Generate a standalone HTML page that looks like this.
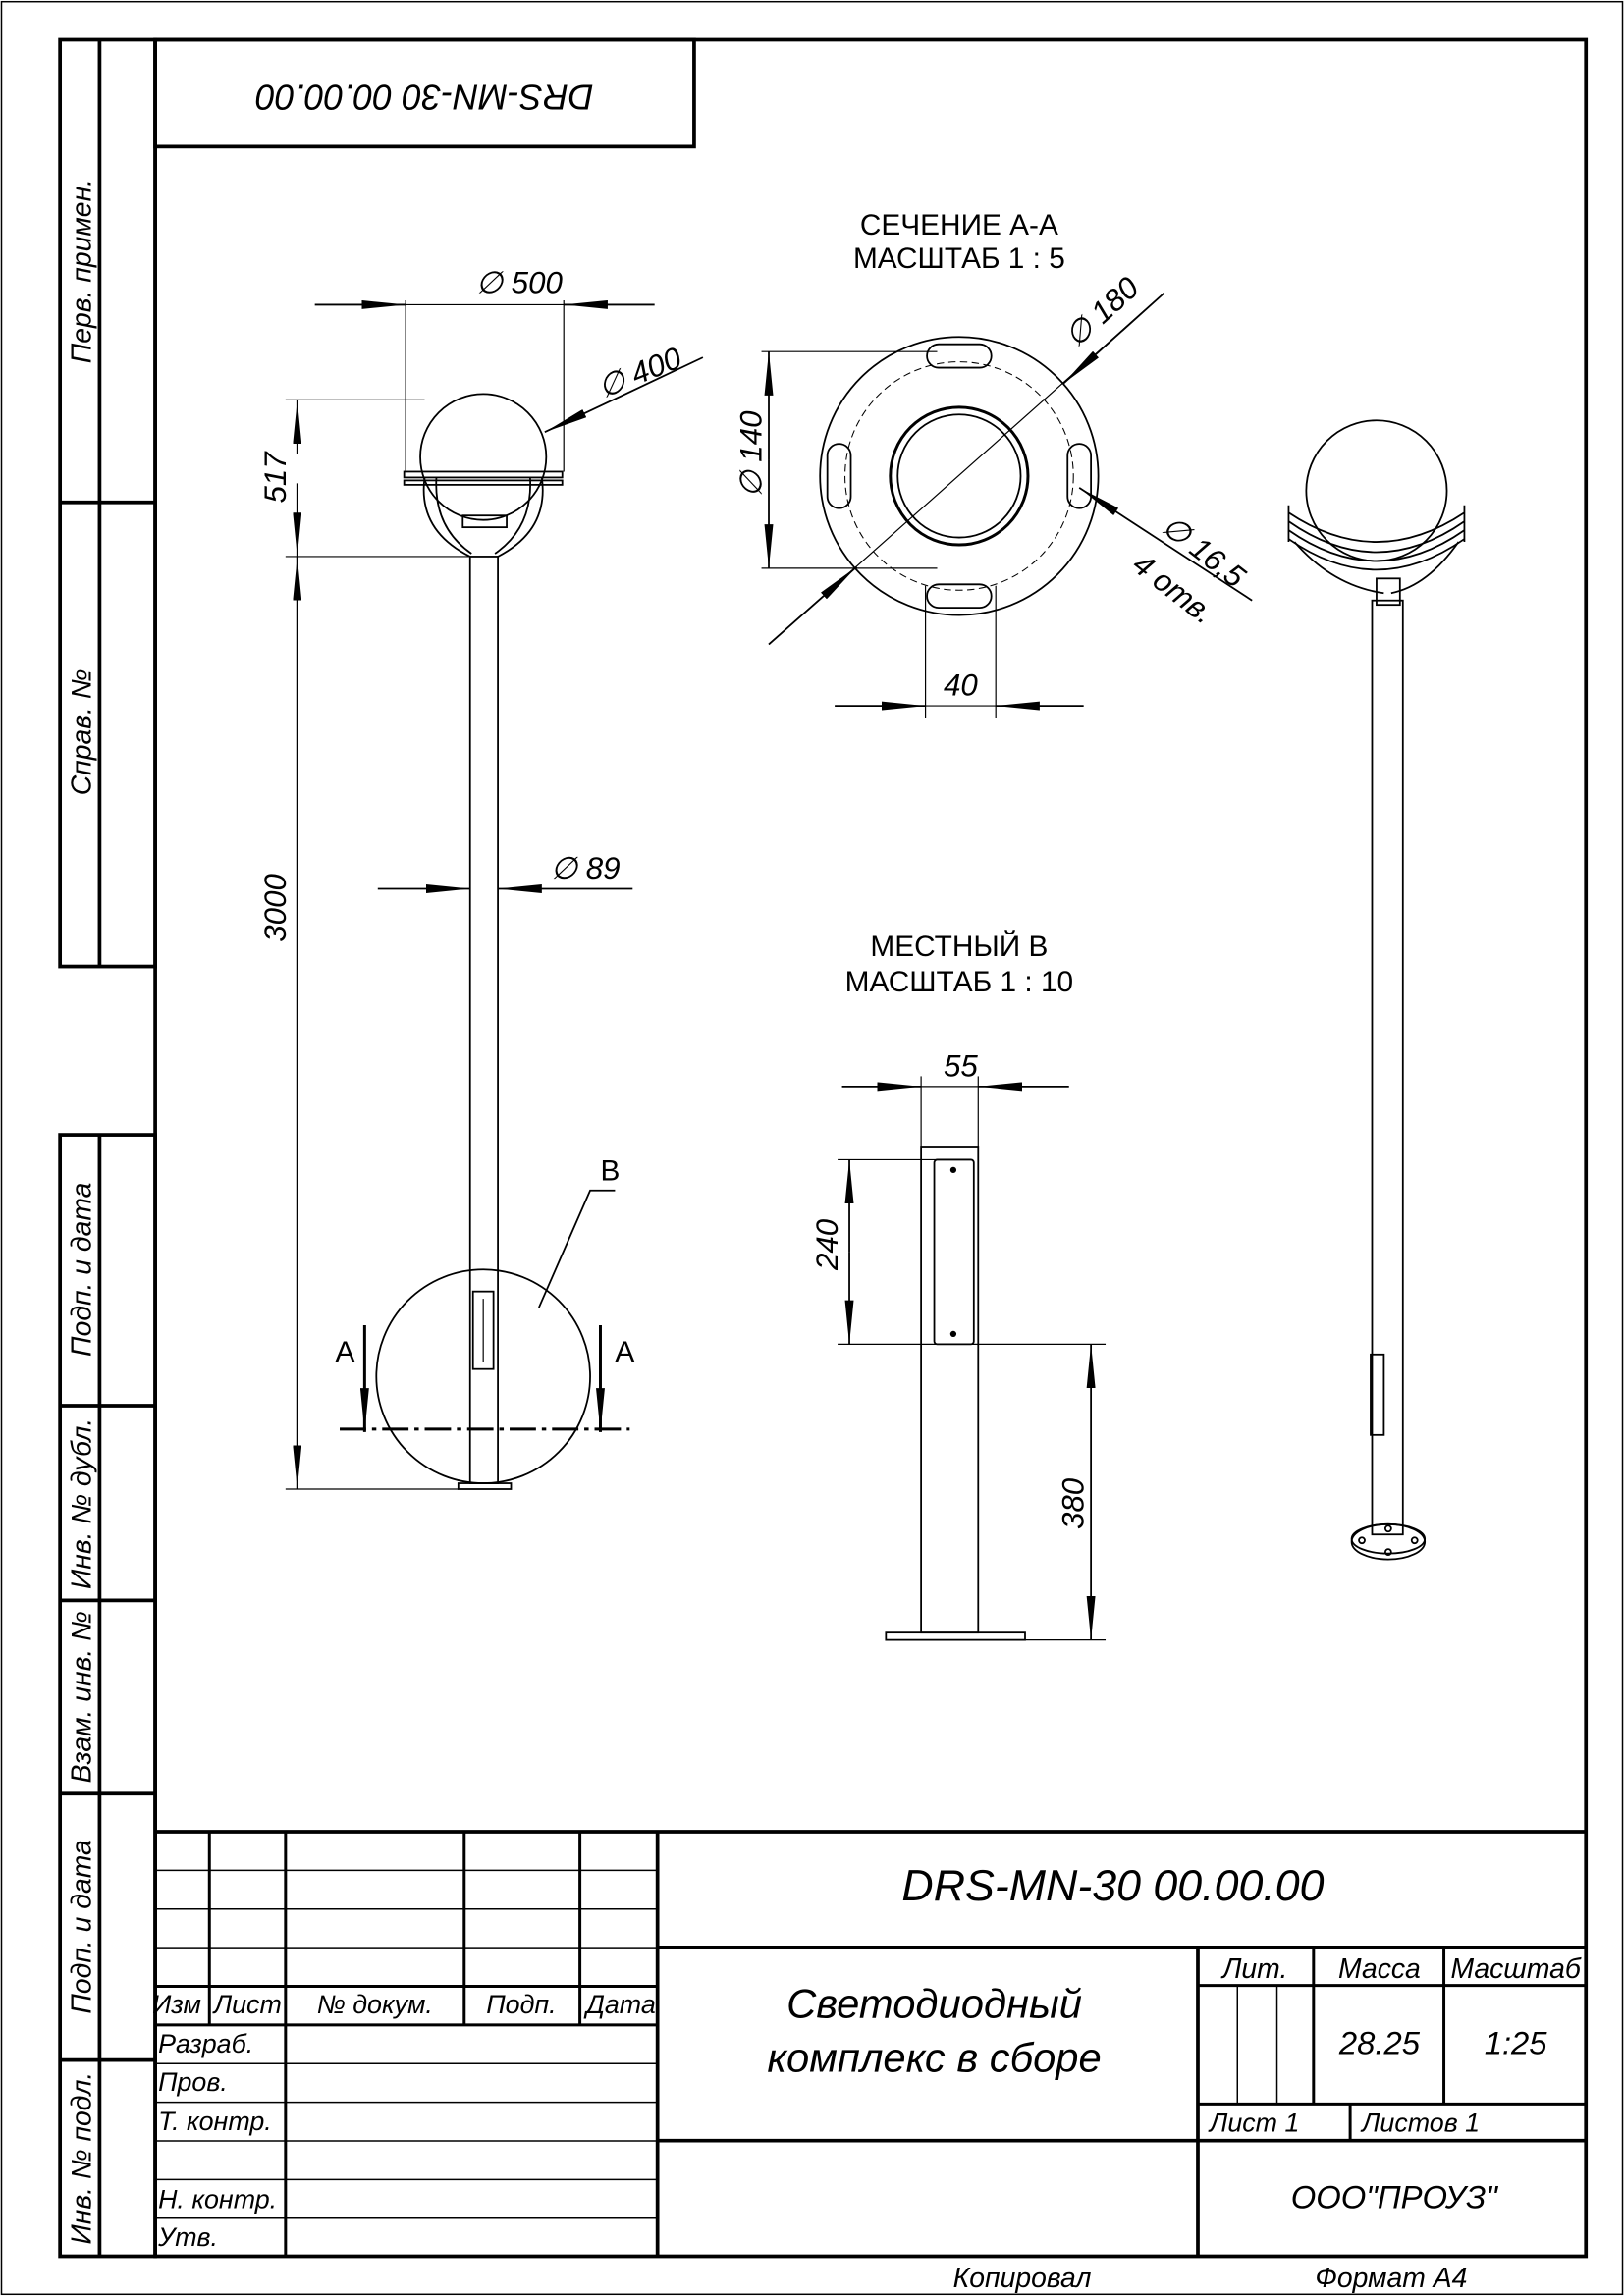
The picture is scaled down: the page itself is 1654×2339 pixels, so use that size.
<!DOCTYPE html>
<html><head><meta charset="utf-8"><style>
html,body{margin:0;padding:0;background:#fff}
svg{display:block}
text{font-family:"Liberation Sans Narrow","Liberation Sans",sans-serif;fill:#000}
.i{font-style:italic}
</style></head><body>
<svg width="1654" height="2339" viewBox="0 0 1109 1568" xmlns="http://www.w3.org/2000/svg">
<defs>
<marker id="a" viewBox="0 0 30 6" refX="30" refY="3" markerWidth="30" markerHeight="6" markerUnits="userSpaceOnUse" orient="auto"><path d="M0,0 L30,3 L0,6 Z" fill="#000"/></marker>
</defs>
<g fill="none" stroke="#000">
<rect x="1" y="1" width="1107" height="1566" stroke-width="1"/>
<rect x="106" y="27" width="977" height="1514" stroke-width="2.5"/>
<rect x="41" y="27" width="65" height="633" stroke-width="2.5"/>
<line x1="68" y1="27" x2="68" y2="660" stroke-width="2.5"/>
<line x1="41" y1="343" x2="106" y2="343" stroke-width="2.5"/>
<rect x="41" y="775" width="65" height="766" stroke-width="2.5"/>
<line x1="68" y1="775" x2="68" y2="1541" stroke-width="2.5"/>
<line x1="41" y1="960" x2="106" y2="960" stroke-width="2.5"/>
<line x1="41" y1="1093" x2="106" y2="1093" stroke-width="2.5"/>
<line x1="41" y1="1225" x2="106" y2="1225" stroke-width="2.5"/>
<line x1="41" y1="1407" x2="106" y2="1407" stroke-width="2.5"/>
<rect x="106" y="27" width="368" height="73" stroke-width="2.5"/>
<line x1="106" y1="1251" x2="1083" y2="1251" stroke-width="2.5"/>
<line x1="449" y1="1251" x2="449" y2="1541" stroke-width="2.5"/>
<line x1="143" y1="1251" x2="143" y2="1383" stroke-width="2"/>
<line x1="195" y1="1251" x2="195" y2="1541" stroke-width="2"/>
<line x1="317" y1="1251" x2="317" y2="1383" stroke-width="2"/>
<line x1="396" y1="1251" x2="396" y2="1383" stroke-width="2"/>
<g stroke-width="1">
<line x1="106" y1="1277.4" x2="449" y2="1277.4"/><line x1="106" y1="1303.8" x2="449" y2="1303.8"/>
<line x1="106" y1="1330.2" x2="449" y2="1330.2"/>
<line x1="106" y1="1409.4" x2="449" y2="1409.4"/><line x1="106" y1="1435.8" x2="449" y2="1435.8"/>
<line x1="106" y1="1462.2" x2="449" y2="1462.2"/><line x1="106" y1="1488.6" x2="449" y2="1488.6"/>
<line x1="106" y1="1515" x2="449" y2="1515"/>
</g>
<line x1="106" y1="1356.6" x2="449" y2="1356.6" stroke-width="2"/>
<line x1="106" y1="1383" x2="449" y2="1383" stroke-width="2"/>
<line x1="449" y1="1330" x2="1083" y2="1330" stroke-width="2.5"/>
<line x1="449" y1="1462" x2="1083" y2="1462" stroke-width="2.5"/>
<line x1="818" y1="1330" x2="818" y2="1541" stroke-width="2.5"/>
<line x1="897" y1="1330" x2="897" y2="1437" stroke-width="2"/>
<line x1="986" y1="1330" x2="986" y2="1437" stroke-width="2"/>
<line x1="818" y1="1356" x2="1083" y2="1356" stroke-width="2"/>
<line x1="818" y1="1437" x2="1083" y2="1437" stroke-width="2"/>
<line x1="922" y1="1437" x2="922" y2="1462" stroke-width="2"/>
<line x1="845" y1="1356" x2="845" y2="1437" stroke-width="1"/>
<line x1="872" y1="1356" x2="872" y2="1437" stroke-width="1"/>

<g stroke-width="1.2">
<rect x="321" y="380" width="19" height="633"/>
<rect x="313" y="1013" width="36" height="4"/>
<circle cx="330" cy="312" r="43"/>
<rect x="276" y="322" width="108" height="4"/>
<rect x="276" y="328" width="108" height="3"/>
<path d="M290,326 Q285,362 321,380 M370,326 Q375,362 340,380 M298,326 Q296,360 322,378 M362,326 Q364,360 338,378"/>
<rect x="316" y="352" width="30" height="8"/>
<rect x="323" y="882" width="14" height="53"/>
<line x1="330" y1="887" x2="330" y2="930" stroke-width="0.8"/>
<line x1="277" y1="205" x2="277" y2="322" stroke-width="0.8"/>
<line x1="385" y1="205" x2="385" y2="322" stroke-width="0.8"/>
<line x1="215" y1="208" x2="277" y2="208" marker-end="url(#a)"/>
<line x1="447" y1="208" x2="385" y2="208" marker-end="url(#a)"/>
<line x1="277" y1="208" x2="385" y2="208" stroke-width="0.8"/>
<line x1="480" y1="244" x2="372" y2="295" marker-end="url(#a)"/>
<line x1="195" y1="273" x2="290" y2="273" stroke-width="0.8"/>
<line x1="195" y1="380" x2="321" y2="380" stroke-width="0.8"/>
<line x1="195" y1="1017" x2="313" y2="1017" stroke-width="0.8"/>
<line x1="203" y1="310" x2="203" y2="273" marker-end="url(#a)"/>
<line x1="203" y1="330" x2="203" y2="380" marker-end="url(#a)"/>
<line x1="203" y1="380" x2="203" y2="1017" marker-end="url(#a)"/>
<line x1="203" y1="1017" x2="203" y2="380" marker-end="url(#a)"/>
<line x1="258" y1="607" x2="321" y2="607" marker-end="url(#a)"/>
<line x1="432" y1="607" x2="340" y2="607" marker-end="url(#a)"/>
<circle cx="330" cy="940" r="73"/>
<polyline points="368,893 403,813 420,813"/>
<line x1="232" y1="976" x2="430" y2="976" stroke-width="2" stroke-dasharray="18,4,3,4"/>
<line x1="249" y1="905" x2="249" y2="978" stroke-width="2" marker-end="url(#a)"/>
<line x1="410" y1="905" x2="410" y2="978" stroke-width="2" marker-end="url(#a)"/>
</g>

<g stroke-width="1.2">
<circle cx="655" cy="325" r="95"/>
<circle cx="655" cy="325" r="78" stroke-dasharray="5,3" stroke-width="0.7"/>
<circle cx="655" cy="325" r="47" stroke-width="2"/>
<circle cx="655" cy="325" r="42"/>
<rect x="633" y="235" width="44" height="16" rx="8"/>
<rect x="633" y="399" width="44" height="16" rx="8"/>
<rect x="565" y="303" width="16" height="44" rx="8"/>
<rect x="729" y="303" width="16" height="44" rx="8"/>
<line x1="520" y1="240" x2="640" y2="240" stroke-width="0.8"/>
<line x1="520" y1="388" x2="640" y2="388" stroke-width="0.8"/>
<line x1="525" y1="314" x2="525" y2="240" marker-end="url(#a)"/>
<line x1="525" y1="314" x2="525" y2="388" marker-end="url(#a)"/>
<line x1="525" y1="440" x2="795" y2="200" stroke-width="0.8"/>
<line x1="525" y1="440" x2="585" y2="387" marker-end="url(#a)"/>
<line x1="795" y1="200" x2="726" y2="262" marker-end="url(#a)"/>
<line x1="855" y1="410" x2="737" y2="333" marker-end="url(#a)"/>
<line x1="632" y1="400" x2="632" y2="490" stroke-width="0.8"/>
<line x1="680" y1="400" x2="680" y2="490" stroke-width="0.8"/>
<line x1="570" y1="482" x2="632" y2="482" marker-end="url(#a)"/>
<line x1="740" y1="482" x2="680" y2="482" marker-end="url(#a)"/>
<line x1="632" y1="482" x2="680" y2="482" stroke-width="0.8"/>
</g>

<g stroke-width="1.2">
<rect x="629" y="783" width="39" height="332"/>
<rect x="605" y="1115" width="95" height="5"/>
<rect x="638" y="792" width="27" height="126" rx="2"/>
<circle cx="651" cy="799" r="1.5" fill="#000"/><circle cx="651" cy="911" r="1.5" fill="#000"/>
<line x1="629" y1="735" x2="629" y2="783" stroke-width="0.8"/>
<line x1="668" y1="735" x2="668" y2="783" stroke-width="0.8"/>
<line x1="575" y1="742" x2="629" y2="742" marker-end="url(#a)"/>
<line x1="730" y1="742" x2="668" y2="742" marker-end="url(#a)"/>
<line x1="629" y1="742" x2="668" y2="742" stroke-width="0.8"/>
<line x1="572" y1="792" x2="640" y2="792" stroke-width="0.8"/>
<line x1="572" y1="918" x2="755" y2="918" stroke-width="0.8"/>
<line x1="700" y1="1120" x2="755" y2="1120" stroke-width="0.8"/>
<line x1="580" y1="855" x2="580" y2="792" marker-end="url(#a)"/>
<line x1="580" y1="855" x2="580" y2="918" marker-end="url(#a)"/>
<line x1="745" y1="1019" x2="745" y2="918" marker-end="url(#a)"/>
<line x1="745" y1="1019" x2="745" y2="1120" marker-end="url(#a)"/>
</g>

<g stroke-width="1.2">
<rect x="937" y="410" width="21" height="638"/>
<ellipse cx="948" cy="1053" rx="25" ry="12"/>
<ellipse cx="948" cy="1051" rx="25" ry="10"/>
<circle cx="930" cy="1052" r="2"/><circle cx="966" cy="1052" r="2"/><circle cx="948" cy="1060" r="2"/><circle cx="948" cy="1044" r="2"/>
<rect x="936" y="925" width="9" height="55"/>
<circle cx="940" cy="335" r="48"/>
<path d="M880,350 Q940,390 1000,350 M880,356 Q940,398 1000,356 M880,362 Q940,404 1000,362 M880,368 Q940,410 1000,368"/>
<path d="M880,345 L880,370 M1000,345 L1000,370"/>
<path d="M884,370 Q910,400 945,405 M996,370 Q975,400 950,405"/>
<rect x="940" y="395" width="16" height="18"/>
</g>
</g>

<g class="i">
<text x="290" y="76" font-size="24" text-anchor="middle" transform="rotate(180 290 67)">DRS-MN-30 00.00.00</text>
<text transform="translate(62,185) rotate(-90)" font-size="19" text-anchor="middle">Перв. примен.</text>
<text transform="translate(62,500) rotate(-90)" font-size="19" text-anchor="middle">Справ. №</text>
<text transform="translate(62,867) rotate(-90)" font-size="19" text-anchor="middle">Подп. и дата</text>
<text transform="translate(62,1027) rotate(-90)" font-size="19" text-anchor="middle">Инв. № дубл.</text>
<text transform="translate(62,1159) rotate(-90)" font-size="19" text-anchor="middle">Взам. инв. №</text>
<text transform="translate(62,1316) rotate(-90)" font-size="19" text-anchor="middle">Подп. и дата</text>
<text transform="translate(62,1474) rotate(-90)" font-size="19" text-anchor="middle">Инв. № подл.</text>

<text x="325" y="200" font-size="21">∅ 500</text>
<text transform="translate(412,272) rotate(-22)" font-size="21">∅ 400</text>
<text transform="translate(195,326) rotate(-90)" font-size="21" text-anchor="middle">517</text>
<text transform="translate(195,620) rotate(-90)" font-size="21" text-anchor="middle">3000</text>
<text x="376" y="600" font-size="21">∅ 89</text>
<text x="410" y="806" font-size="20" font-style="normal">B</text>
<text x="229" y="930" font-size="20" font-style="normal">A</text>
<text x="420" y="930" font-size="20" font-style="normal">A</text>

<text transform="translate(520,310) rotate(-90)" font-size="21" text-anchor="middle">∅ 140</text>
<text transform="translate(735,238) rotate(-42)" font-size="21">∅ 180</text>
<text transform="translate(792,362) rotate(38)" font-size="21">∅ 16,5</text>
<text transform="translate(772,388) rotate(38)" font-size="21">4 отв.</text>
<text x="656" y="475" font-size="21" text-anchor="middle">40</text>
<text x="656" y="735" font-size="21" text-anchor="middle">55</text>
<text transform="translate(572,850) rotate(-90)" font-size="21" text-anchor="middle">240</text>
<text transform="translate(740,1027) rotate(-90)" font-size="21" text-anchor="middle">380</text>

<text x="104" y="1375" font-size="18">Изм</text>
<text x="146" y="1375" font-size="18">Лист</text>
<text x="256" y="1375" font-size="18" text-anchor="middle">№ докум.</text>
<text x="356" y="1375" font-size="18" text-anchor="middle">Подп.</text>
<text x="424" y="1375" font-size="18" text-anchor="middle">Дата</text>
<text x="108" y="1402" font-size="18">Разраб.</text>
<text x="108" y="1428" font-size="18">Пров.</text>
<text x="108" y="1455" font-size="18">Т. контр.</text>
<text x="108" y="1508" font-size="18">Н. контр.</text>
<text x="108" y="1534" font-size="18">Утв.</text>
<text x="760" y="1298" font-size="30" text-anchor="middle">DRS-MN-30 00.00.00</text>
<text x="638" y="1378" font-size="28" text-anchor="middle">Светодиодный</text>
<text x="638" y="1415" font-size="28" text-anchor="middle">комплекс в сборе</text>
<text x="857" y="1351" font-size="19" text-anchor="middle">Лит.</text>
<text x="942" y="1351" font-size="19" text-anchor="middle">Масса</text>
<text x="1035" y="1351" font-size="19" text-anchor="middle">Масштаб</text>
<text x="942" y="1403" font-size="22" text-anchor="middle">28.25</text>
<text x="1035" y="1403" font-size="22" text-anchor="middle">1:25</text>
<text x="826" y="1456" font-size="18">Лист 1</text>
<text x="930" y="1456" font-size="18">Листов 1</text>
<text x="952" y="1508" font-size="22" text-anchor="middle">ООО"ПРОУЗ"</text>
<text x="698" y="1562" font-size="19" text-anchor="middle">Копировал</text>
<text x="950" y="1562" font-size="19" text-anchor="middle">Формат А4</text>
</g>
<g font-size="20">
<text x="655" y="160" text-anchor="middle">СЕЧЕНИЕ А-А</text>
<text x="655" y="183" text-anchor="middle">МАСШТАБ 1 : 5</text>
<text x="655" y="653" text-anchor="middle">МЕСТНЫЙ В</text>
<text x="655" y="677" text-anchor="middle">МАСШТАБ 1 : 10</text>
</g>
</svg>
</body></html>
